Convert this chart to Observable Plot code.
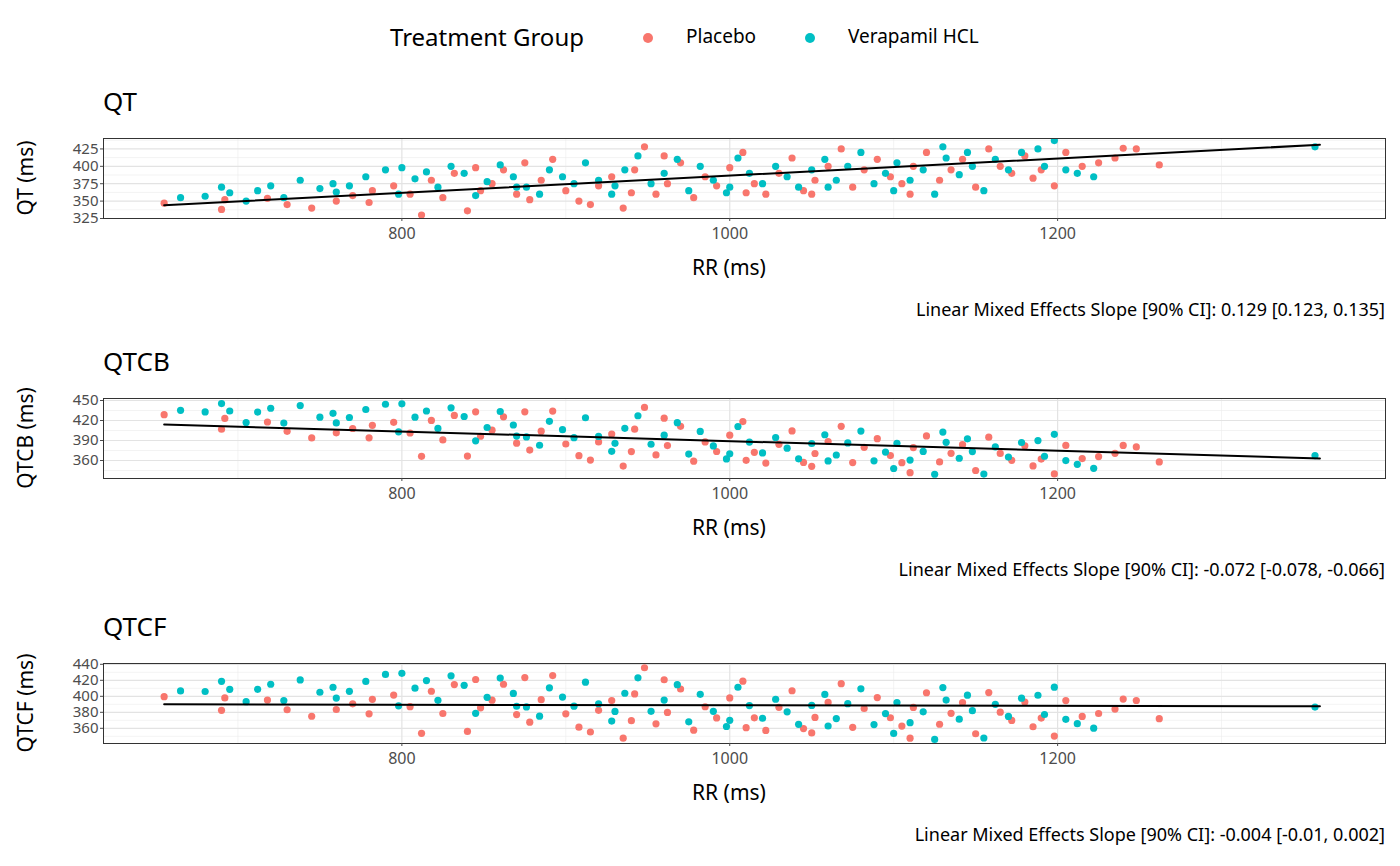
<!DOCTYPE html>
<html><head><meta charset="utf-8">
<script src="https://cdn.jsdelivr.net/npm/d3@7"></script>
<script src="https://cdn.jsdelivr.net/npm/@observablehq/plot@0.6"></script>
<style>
body{margin:0;background:#fff;font-family:"Noto Sans",sans-serif;}
#root{position:relative;width:1400px;height:866px;}
.t{position:absolute;white-space:nowrap;color:#000;line-height:1.2;}
svg{position:absolute;left:0;font-family:"Noto Sans",sans-serif;}
</style></head><body><div id="root"></div>
<script>
const groups = ["Placebo","Verapamil HCL"];
const colors = ["#F8766D","#00BFC4"];
const placebo = [[655,347],[690,338],[692,352],[718,354],[745,340],[760,350],[770,358],[782,365],[795,372],[805,360],[812,330],[818,380],[825,355],[832,390],[840,336],[848,365],[855,375],[862,395],[870,360],[878,352],[885,380],[892,410],[900,365],[908,350],[915,345],[920,372],[928,385],[935,340],[942,395],[948,428],[955,360],[962,375],[970,405],[978,355],[985,385],[992,372],[1000,398],[1008,420],[1015,375],[1022,360],[1030,390],[1038,412],[1045,365],[1052,380],[1060,400],[1068,425],[1075,370],[1082,395],[1090,410],[1098,385],[1105,375],[1112,400],[1120,420],[1128,380],[1135,395],[1142,410],[1150,370],[1158,425],[1165,400],[1172,390],[1180,415],[1190,395],[1198,372],[1205,420],[1215,400],[1225,405],[1240,426],[1248,425],[1262,402],[1235,412],[1185,383],[875,405],[940,362],[1010,362],[780,348],[730,345],[960,415],[1050,360],[1110,360],[845,398]];
const verapamil = [[665,355],[680,357],[695,362],[705,350],[712,365],[728,355],[738,380],[750,368],[758,375],[768,372],[778,385],[790,395],[798,360],[808,382],[815,392],[822,370],[830,400],[838,390],[845,358],[852,378],[860,402],[868,385],[876,370],[884,360],[890,395],[898,385],[905,375],[912,405],[920,380],[928,360],[936,395],[944,415],[952,375],[960,390],[968,410],[975,365],[982,400],[990,380],[998,362],[1005,412],[1012,390],[1020,375],[1028,400],[1035,385],[1042,370],[1050,395],[1058,410],[1065,380],[1072,400],[1080,420],[1088,375],[1095,390],[1102,405],[1110,380],[1118,395],[1125,360],[1132,412],[1140,388],[1148,400],[1155,365],[1162,410],[1170,395],[1178,420],[1188,425],[1198,437],[1205,395],[1212,390],[1222,385],[1357,428],[1192,400],[1145,420],[1100,365],[1000,370],[930,372],[870,370],[760,363],[690,370],[720,372],[800,398],[1130,428],[1060,370]];
const xTicks = [800,1000,1200];
const xMinor = [700,900,1100,1300];
const lineRR = [655,1360];
const qtLine = [344,431], qtcbLine = [414,363], qtcfLine = [390,387.5];
const captions = ["Linear Mixed Effects Slope [90% CI]: 0.129 [0.123, 0.135]","Linear Mixed Effects Slope [90% CI]: -0.072 [-0.078, -0.066]","Linear Mixed Effects Slope [90% CI]: -0.004 [-0.01, 0.002]"];

const rows = [];
[placebo, verapamil].forEach((arr,i)=>arr.forEach(([rr,qt])=>rows.push({group:groups[i],rr,qt,
  qtcb: qt/Math.sqrt(rr/1000), qtcf: qt/Math.cbrt(rr/1000)})));

const root = document.getElementById("root");
function txt(s,x,y,size,extra=""){const d=document.createElement("div");d.className="t";d.textContent=s;
  d.style.cssText+=`left:${x}px;top:${y}px;font-size:${size}px;${extra}`;root.appendChild(d);return d;}

// legend
txt("Treatment Group",390,23,24);
groups.forEach((g,i)=>{const x=[648,810][i];
  const c=document.createElement("div");c.style.cssText=`position:absolute;left:${x-5}px;top:33px;width:10px;height:10px;border-radius:50%;background:${colors[i]}`;root.appendChild(c);
  txt(g,[686,848][i],25,19);});

function panel(cfg){
  const {boxTop, domain, ticks, minor, key, line, title, ylab, cap} = cfg;
  const lineData = lineRR.map((x,i)=>({x,y:line[i]}));
  const p = Plot.plot({
    width:1400, height:10+80+70, marginTop:10, marginBottom:70, marginLeft:103, marginRight:15,
    x:{domain:[618,1400], label:null},
    y:{domain, label:null},
    color:{domain:groups, range:colors},
    style:{fontSize:"15px", color:"#4d4d4d"},
    marks:[
      Plot.ruleX(xMinor,{stroke:"#ebebeb",strokeWidth:0.6}),
      Plot.ruleY(minor,{stroke:"#ebebeb",strokeWidth:0.6}),
      Plot.ruleX(xTicks,{stroke:"#e3e3e3",strokeWidth:1.2}),
      Plot.ruleY(ticks,{stroke:"#e3e3e3",strokeWidth:1.2}),
      Plot.dot(rows,{x:"rr",y:key,fill:"group",r:3.6,clip:true}),
      Plot.line(lineData,{x:"x",y:"y",stroke:"#000",strokeWidth:2}),
      Plot.frame({stroke:"#333",strokeWidth:1}),
      Plot.axisX({ticks:xTicks,tickSize:3,label:null,fontSize:16,tickFormat:d=>String(d)}),
      Plot.axisY({ticks,tickSize:3,label:null,fontSize:15,tickFormat:d=>String(d),tickPadding:2})
    ]
  });
  p.style.top=(boxTop-10)+"px";
  root.appendChild(p);
  const h = 80;
  txt(title,103,boxTop-52,26);
  const y=txt(ylab,0,0,21,"transform:translate(-50%,-50%) rotate(-90deg);");
  y.style.left="26px";y.style.top=(boxTop+h/2)+"px";
  txt("RR (ms)",692,boxTop+h+37,21);
  const c=txt(cap,0,boxTop+h+81,18);c.style.right="15px";c.style.left="auto";
}
panel({boxTop:138,domain:[325,440],ticks:[325,350,375,400,425],minor:[337.5,362.5,387.5,412.5,437.5],key:"qt",line:qtLine,title:"QT",ylab:"QT (ms)",cap:captions[0]});
panel({boxTop:398,domain:[333,453],ticks:[360,390,420,450],minor:[345,375,405,435],key:"qtcb",line:qtcbLine,title:"QTCB",ylab:"QTCB (ms)",cap:captions[1]});
panel({boxTop:663,domain:[341,441],ticks:[360,380,400,420,440],minor:[350,370,390,410,430],key:"qtcf",line:qtcfLine,title:"QTCF",ylab:"QTCF (ms)",cap:captions[2]});
</script></body></html>
